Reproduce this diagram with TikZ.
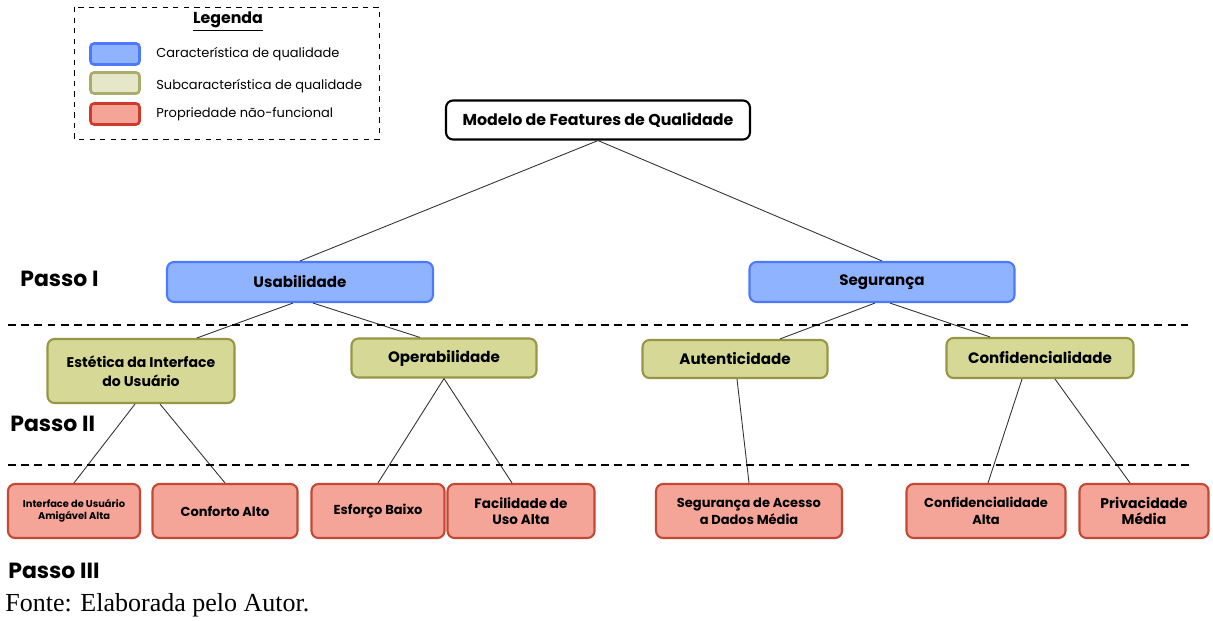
\documentclass[tikz,border=0pt]{standalone}
\usepackage{fontspec}
\setmainfont{Poppins}
\newfontfamily\fontefont{Liberation Serif}
\usetikzlibrary{positioning}

\definecolor{azulF}{RGB}{143,179,255}
\definecolor{azulB}{RGB}{77,121,255}
\definecolor{verdeF}{RGB}{214,216,150}
\definecolor{verdeB}{RGB}{150,150,70}
\definecolor{legverde}{RGB}{230,230,200}
\definecolor{vermF}{RGB}{244,165,152}
\definecolor{vermB}{RGB}{196,72,52}

\tikzset{
	box/.style={rounded corners=4pt, line width=1.2pt, align=center, inner sep=0pt,
		font=\bfseries\fontsize{8.6}{10.5}\selectfont},
	raiz/.style={box, draw=black, fill=white},
	carac/.style={box, draw=azulB, fill=azulF},
	subcarac/.style={box, draw=verdeB, fill=verdeF},
	prop/.style={box, draw=vermB, fill=vermF, minimum height=1.08cm,
		font=\bfseries\fontsize{7.4}{9.5}\selectfont},
	passo/.style={anchor=west, inner sep=0pt, font=\bfseries\fontsize{12.5}{14}\selectfont},
	amostra/.style={rounded corners=2pt, line width=1.5pt, minimum width=0.98cm, minimum height=0.42cm},
	legtexto/.style={anchor=west, inner sep=0pt, font=\fontsize{7.4}{8}\selectfont},
	separador/.style={line width=1.2pt, dash pattern=on 4.5pt off 3pt},
	ligacao/.style={draw=black!80, line width=0.5pt}
}

\begin{document}
\begin{tikzpicture}[x=0.02cm, y=-0.02cm]
		\useasboundingbox[fill=white] (0,0) rectangle (1213,621);

		% legenda
		\draw[dashed, line width=0.5pt] (74,7) rectangle (379,139);
		\node[font=\bfseries\fontsize{9}{10}\selectfont] (legenda) at (228,22) {\underline{Legenda}};
		\node[amostra, draw=azulB, fill=azulF] (amCarac) at (115,54) {};
		\node[amostra, draw=verdeB!80, fill=legverde] (amSub) at (115,83) {};
		\node[amostra, draw=vermB!80!red, fill=vermF] (amProp) at (115,114) {};
		\node[legtexto] (txCarac) at (156,54) {Característica de qualidade};
		\node[legtexto] (txSub) at (156,86) {Subcaracterística de qualidade};
		\node[legtexto] (txProp) at (156,114) {Propriedade não-funcional};

		% arvore
		\node[raiz, minimum width=6.08cm, minimum height=0.78cm, font=\bfseries\fontsize{9}{11}\selectfont] (modelo) at (598,120) {Modelo de Features de Qualidade};

		\node[carac, minimum width=5.32cm, minimum height=0.8cm] (usab) at (300,282) {Usabilidade};
		\node[carac, minimum width=5.3cm, minimum height=0.8cm] (seg) at (882,282) {Segurança};

		\node[subcarac, minimum width=3.74cm, minimum height=1.28cm, font=\bfseries\fontsize{8}{10.5}\selectfont] (estet) at (141,371) {Estética da Interface\\do Usuário};
		\node[subcarac, minimum width=3.7cm, minimum height=0.78cm] (operab) at (444,358) {Operabilidade};
		\node[subcarac, minimum width=3.7cm, minimum height=0.76cm] (autent) at (735,359) {Autenticidade};
		\node[subcarac, minimum width=3.74cm, minimum height=0.8cm] (confid) at (1040,358) {Confidencialidade};

		\node[prop, minimum width=2.64cm, font=\bfseries\fontsize{5.6}{7}\selectfont] (interf) at (74,511) {Interface de Usuário\\Amigável Alta};
		\node[prop, minimum width=2.9cm] (conforto) at (225,511) {Conforto Alto};
		\node[prop, minimum width=2.66cm] (esforco) at (378,511) {Esforço Baixo};
		\node[prop, minimum width=2.94cm, font=\bfseries\fontsize{7.7}{9.5}\selectfont] (facil) at (521,511) {Facilidade de\\Uso Alta};
		\node[prop, minimum width=3.72cm] (acesso) at (749,511) {Segurança de Acesso\\a Dados Média};
		\node[prop, minimum width=3.18cm] (confAlta) at (986,511) {Confidencialidade\\Alta};
		\node[prop, minimum width=2.58cm, font=\bfseries\fontsize{8}{9.5}\selectfont] (priv) at (1144,511) {Privacidade\\Média};

		\draw[ligacao] (modelo.south) -- (usab.north);
		\draw[ligacao] (modelo.south) -- (seg.north);
		\draw[ligacao] ([xshift=-0.14cm]usab.south) -- ([xshift=1.12cm]estet.north);
		\draw[ligacao] ([xshift=0.26cm]usab.south) -- ([xshift=-0.48cm]operab.north);
		\draw[ligacao] ([xshift=-0.14cm]seg.south) -- ([xshift=0.9cm]autent.north);
		\draw[ligacao] ([xshift=0.16cm]seg.south) -- ([xshift=-1cm]confid.north);
		\draw[ligacao] ([xshift=-0.12cm]estet.south) -- (interf.north);
		\draw[ligacao] ([xshift=0.38cm]estet.south) -- (conforto.north);
		\draw[ligacao] (operab.south) -- (esforco.north);
		\draw[ligacao] (operab.south) -- ([xshift=-0.18cm]facil.north);
		\draw[ligacao] ([xshift=0.04cm]autent.south) -- (acesso.north);
		\draw[ligacao] ([xshift=-0.36cm]confid.south) -- ([xshift=0.04cm]confAlta.north);
		\draw[ligacao] ([xshift=0.3cm]confid.south) -- ([xshift=-0.28cm]priv.north);

		% passos
		\draw[separador] (8,325) -- (1188,325);
		\draw[separador] (8,465) -- (1190,465);
		\node[passo] (passoI) at (20,279) {Passo I};
		\node[passo] (passoII) at (10,424) {Passo II};
		\node[passo] (passoIII) at (8,571) {Passo III};

		\node[anchor=west, font=\fontefont\fontsize{14.8}{16}\selectfont, inner sep=0pt] (fonte) at (5,605) {Fonte: Elaborada pelo Autor.};
		\end{tikzpicture}
\end{document}
